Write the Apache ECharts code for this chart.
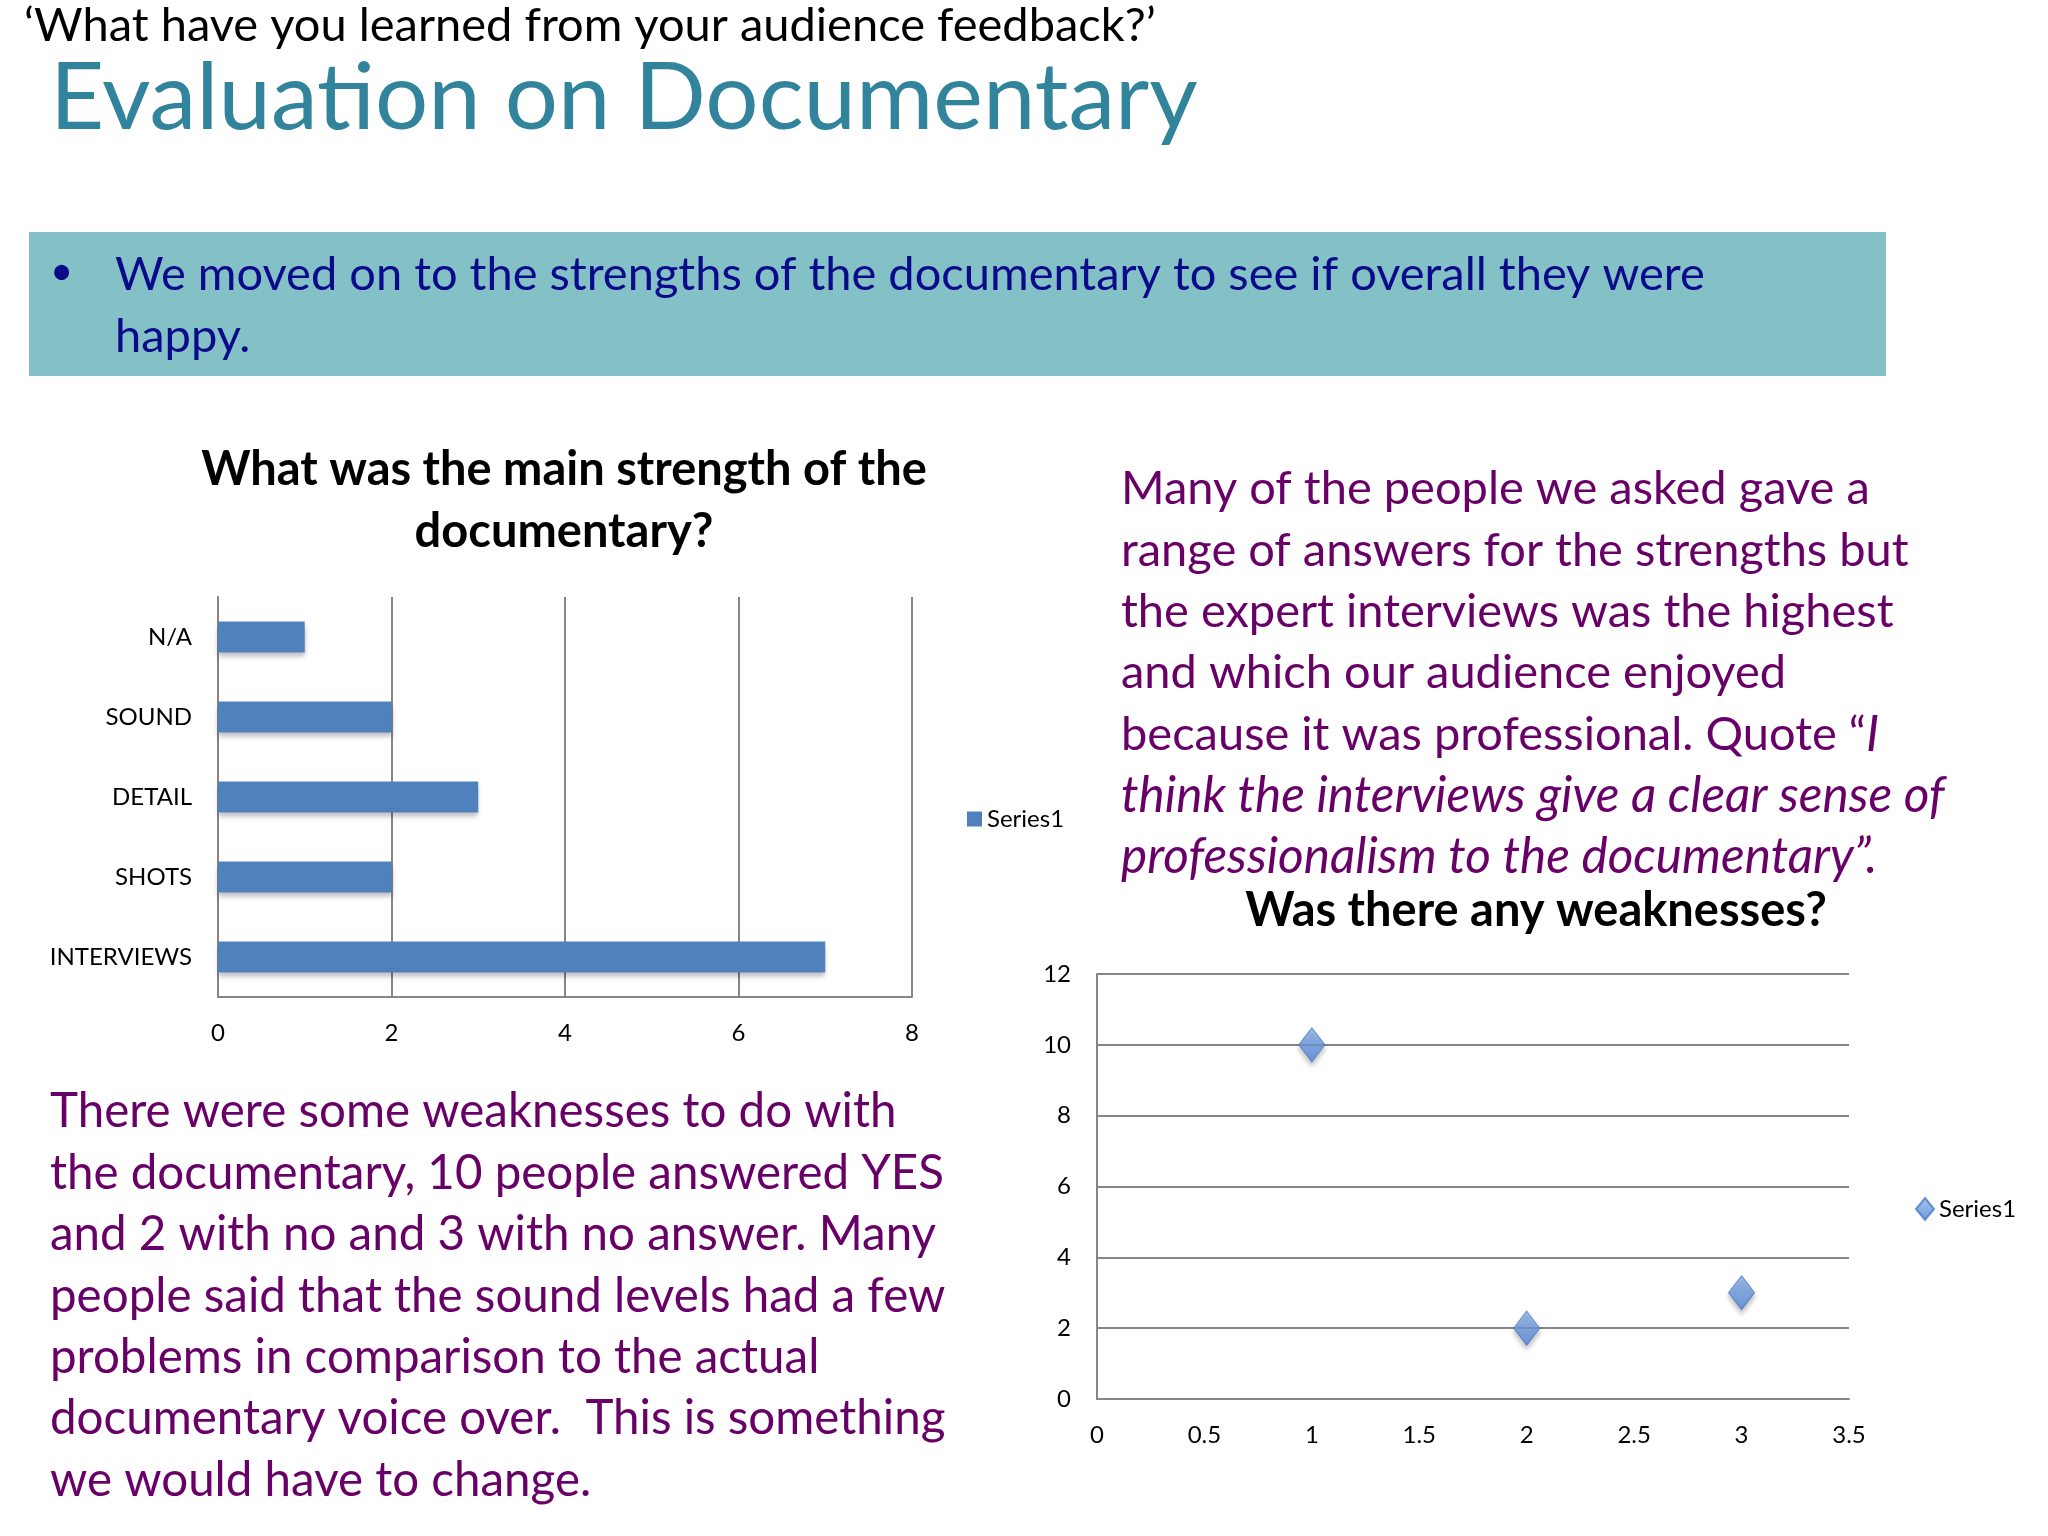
<!DOCTYPE html>
<html>
<head>
<meta charset="utf-8">
<title>Evaluation on Documentary</title>
<script src="https://cdn.jsdelivr.net/npm/echarts@6/dist/echarts.min.js"></script>
<style>
  html, body { margin: 0; padding: 0; background: #fff; }
  #main { width: 2048px; height: 1536px; }
</style>
</head>
<body>
<div id="main"></div>
<script>
  // strength question (bar chart), bottom to top
  const strengthCats = ['INTERVIEWS', 'SHOTS', 'DETAIL', 'SOUND', 'N/A'];
  const strengthVals = [7, 2, 3, 2, 1];
  const strengthTicks = [0, 2, 4, 6, 8];

  // weaknesses question (scatter chart)
  const weakX = [1, 2, 3];
  const weakY = [10, 2, 3];

  const font = 'Lato, "Open Sans", sans-serif';
  const purple = '#680068';

  const rightLines = [
    'Many of the people we asked gave a',
    'range of answers for the strengths but',
    'the expert interviews was the highest',
    'and which our audience enjoyed',
    '{n|because it was professional. Quote “}{i|I}',
    '{i|think the interviews give a clear sense of}',
    '{i|professionalism to the documentary”.}'
  ];
  const leftLines = [
    'There were some weaknesses to do with',
    'the documentary, 10 people answered YES',
    'and 2 with no and 3 with no answer. Many',
    'people said that the sound levels had a few',
    'problems in comparison to the actual',
    'documentary voice over.  This is something',
    'we would have to change.'
  ];

  let myChart = echarts.init(document.getElementById('main'));

  let graphics = [
    // header texts
    {type: 'text', left: 24, top: 2, style: {text: '‘What have you learned from your audience feedback?’', font: '400 47px ' + font, fill: '#000'}},
    {type: 'text', left: 50, top: 52, style: {text: 'Evaluation on Documentary', font: '400 94px ' + font, fill: '#31849B'}},
    // blue box
    {type: 'rect', shape: {x: 29, y: 232, width: 1857, height: 144}, style: {fill: '#83C1C7'}},
    {type: 'text', x: 50, y: 272, style: {text: '•', font: '400 40px ' + font, fill: '#0A0A8A', textVerticalAlign: 'middle'}},
    {type: 'text', x: 115, y: 275, style: {text: 'We moved on to the strengths of the documentary to see if overall they were', font: '400 47px ' + font, fill: '#0A0A8A', textVerticalAlign: 'middle'}},
    {type: 'text', x: 115, y: 337, style: {text: 'happy.', font: '400 47px ' + font, fill: '#0A0A8A', textVerticalAlign: 'middle'}},
    // chart titles
    {type: 'text', x: 564, y: 470, style: {text: 'What was the main strength of the', font: '700 47px ' + font, fill: '#000', textAlign: 'center', textVerticalAlign: 'middle'}},
    {type: 'text', x: 564, y: 532, style: {text: 'documentary?', font: '700 47px ' + font, fill: '#000', textAlign: 'center', textVerticalAlign: 'middle'}},
    {type: 'text', x: 1536, y: 911, style: {text: 'Was there any weaknesses?', font: '700 47px ' + font, fill: '#000', textAlign: 'center', textVerticalAlign: 'middle'}}
  ];

  rightLines.forEach(function (t, i) {
    graphics.push({type: 'text', x: 1121, y: 489 + i * 61.4, style: {
      text: t, font: '400 47px ' + font, fill: purple, textVerticalAlign: 'middle',
      rich: {
        n: {font: '400 47px ' + font, fill: purple},
        i: {font: 'italic 400 49.5px ' + font, fill: purple}
      }
    }});
  });
  leftLines.forEach(function (t, i) {
    graphics.push({type: 'text', x: 50, y: 1112 + i * 61.4, style: {
      text: t, font: '400 47.5px ' + font, fill: purple, textVerticalAlign: 'middle'
    }});
  });

  let option = {
    animation: false,
    textStyle: {fontFamily: font},
    graphic: graphics,
    legend: [
      {
        data: [{name: 'Series1', icon: 'rect'}],
        left: 962, top: 802,
        itemWidth: 15, itemHeight: 15, itemGap: 6,
        textStyle: {fontSize: 24, color: '#000'}
      },
      {
        data: [{name: 'Series1 ', icon: 'diamond'}],
        left: 1910, top: 1192,
        itemWidth: 18, itemHeight: 22, itemGap: 6,
        formatter: function () { return 'Series1'; },
        textStyle: {fontSize: 24, color: '#000'}
      }
    ],
    grid: [
      {left: 218, top: 597, width: 694, height: 400},
      {left: 1097, top: 974, width: 752, height: 425}
    ],
    xAxis: [
      {
        gridIndex: 0, type: 'value', min: strengthTicks[0], max: strengthTicks[strengthTicks.length - 1], interval: 2,
        axisLine: {show: true, lineStyle: {color: '#868686', width: 2}},
        axisTick: {show: false},
        axisLabel: {margin: 24, fontSize: 24, color: '#000'},
        splitLine: {show: true, lineStyle: {color: '#868686', width: 2}}
      },
      {
        gridIndex: 1, type: 'value', min: 0, max: 3.5, interval: 0.5,
        axisLine: {show: true, onZero: false, lineStyle: {color: '#868686', width: 2}},
        axisTick: {show: false},
        axisLabel: {margin: 24, fontSize: 24, color: '#000'},
        splitLine: {show: false}
      }
    ],
    yAxis: [
      {
        gridIndex: 0, type: 'category', data: strengthCats,
        axisLine: {show: true, lineStyle: {color: '#868686', width: 2}},
        axisTick: {show: false},
        axisLabel: {margin: 26, fontSize: 24, color: '#000'},
        splitLine: {show: false}
      },
      {
        gridIndex: 1, type: 'value', min: 0, max: 12, interval: 2,
        axisLine: {show: true, lineStyle: {color: '#868686', width: 2}},
        axisTick: {show: false},
        axisLabel: {margin: 26, fontSize: 24, color: '#000'},
        splitLine: {show: true, lineStyle: {color: '#868686', width: 2}}
      }
    ],
    series: [
      {
        name: 'Series1',
        type: 'bar',
        xAxisIndex: 0, yAxisIndex: 0,
        data: strengthVals,
        barWidth: 31,
        itemStyle: {
          color: '#4F81BD',
          shadowColor: 'rgba(0,0,0,0.25)', shadowBlur: 5, shadowOffsetY: 4
        }
      },
      {
        name: 'Series1 ',
        type: 'scatter',
        xAxisIndex: 1, yAxisIndex: 1,
        data: weakX.map(function (x, i) { return [x, weakY[i]]; }),
        symbol: 'diamond',
        symbolSize: [26, 34],
        itemStyle: {
          color: new echarts.graphic.LinearGradient(0, 0, 0, 1, [
            {offset: 0, color: '#8DB4EC'},
            {offset: 1, color: '#5085D6'}
          ]),
          borderColor: '#4A7AC8', borderWidth: 1,
          shadowColor: 'rgba(0,0,0,0.3)', shadowBlur: 5, shadowOffsetY: 4
        }
      }
    ]
  };
  myChart.setOption(option);
</script>
</body>
</html>
